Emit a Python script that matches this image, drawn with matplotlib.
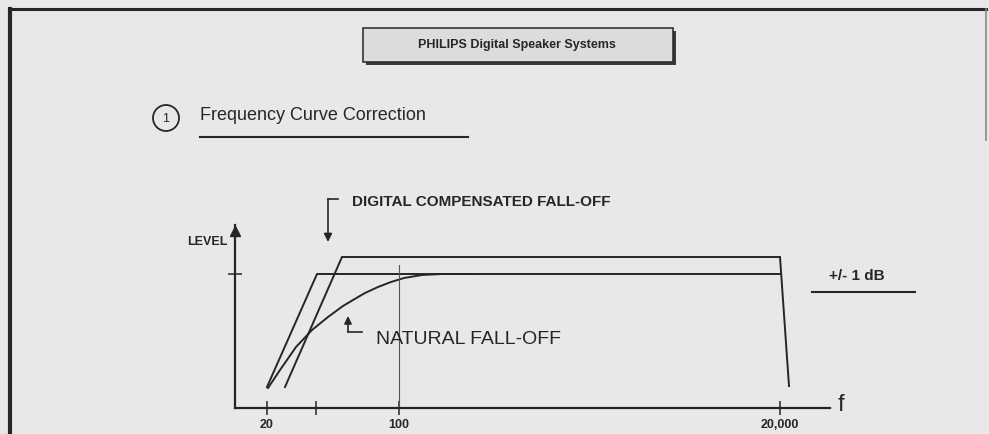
import matplotlib

matplotlib.use("Agg")
import matplotlib.pyplot as plt
from matplotlib.patches import Circle, Rectangle

# schematic units: x = position along the frequency axis, y = level
tick_pos = [32, 81, 164, 545]
tick_labels = ["20", "", "100", "20,000"]
level_ticks = [134]

natural_x = [33, 45, 61, 77, 93, 108, 118, 130, 143, 156, 169, 187, 207, 240]
natural_y = [20, 38, 61, 78, 91, 102, 108, 115, 121, 126, 130, 133, 134, 134]
lower_x = [32, 82, 546]
lower_y = [21, 134, 134]
upper_x = [50, 107, 545, 554]
upper_y = [21, 151, 151, 22]
mark_100_x = [164, 164]
mark_100_y = [0, 143]

INK = "#262626"
PAPER = "#e8e8e8"
FONT = ["Liberation Sans", "DejaVu Sans"]

fig = plt.figure(figsize=(9.89, 4.34), dpi=100, facecolor=PAPER)

# page layer in pixel units for the scanned-sheet decorations
page = fig.add_axes([0, 0, 1, 1])
page.set_xlim(0, 989)
page.set_ylim(434, 0)
page.axis("off")

page.plot([9, 986], [9, 9], color=INK, lw=2.2)
page.plot([10, 10], [9, 434], color=INK, lw=3)
page.plot([986, 986], [9, 140], color="#8a8a8a", lw=1.2)

page.add_patch(Rectangle((366, 31), 310, 34, facecolor="#3a3a3a", edgecolor="none"))
page.add_patch(Rectangle((363, 28), 310, 34, facecolor="#dcdcdc", edgecolor=INK, lw=1.1))
page.text(517, 45, "PHILIPS Digital Speaker Systems", ha="center", va="center",
          fontsize=9, fontweight="bold", family=FONT, color=INK)

page.add_patch(Circle((166, 118), 13, facecolor="none", edgecolor=INK, lw=1.3))
page.text(166, 119, "1", ha="center", va="center", fontsize=9, family=FONT, color=INK)
page.text(200, 115, "Frequency Curve Correction", ha="left", va="center",
          fontsize=13, family=FONT, color=INK)
page.plot([200, 468], [137, 137], color=INK, lw=1.5)

page.text(857, 276, "+/- 1 dB", ha="center", va="center", fontsize=11,
          fontweight="bold", family=FONT, color=INK)
page.plot([812, 915], [292, 292], color=INK, lw=1.5)

# the response chart
ax = fig.add_axes([235 / 989, 26 / 434, 595 / 989, 183 / 434])
ax.patch.set_alpha(0)
ax.set_xlim(0, 595)
ax.set_ylim(0, 183)
for side in ["top", "right"]:
    ax.spines[side].set_visible(False)
for side in ["left", "bottom"]:
    ax.spines[side].set_linewidth(1.6)
    ax.spines[side].set_color(INK)

ax.plot(upper_x, upper_y, color=INK, lw=1.4, solid_joinstyle="miter")
ax.plot(lower_x, lower_y, color=INK, lw=1.4, solid_joinstyle="miter")
ax.plot(natural_x, natural_y, color=INK, lw=1.4)
ax.plot(mark_100_x, mark_100_y, color="#555555", lw=0.8)

ax.set_xticks(tick_pos, tick_labels)
ax.set_yticks(level_ticks, [""])
ax.tick_params(axis="both", direction="inout", length=10, width=1.1, color=INK)
ax.tick_params(axis="x", pad=3, labelsize=9, labelcolor=INK)
for lbl in ax.get_xticklabels():
    lbl.set_family(FONT)
    lbl.set_fontweight("bold")

# axis arrow and labels
ax.plot(0, 177, marker="^", markersize=7, color=INK, clip_on=False)
ax.text(-8, 166, "LEVEL", ha="right", va="center", fontsize=9, fontweight="bold",
        family=FONT, color=INK)
ax.text(603, 3, "f", ha="left", va="center", fontsize=17, family=FONT, color=INK)

# callouts
ax.plot([103, 93], [209, 209], color=INK, lw=1.2, clip_on=False)
ax.annotate("", xy=(93, 166), xytext=(93, 209), annotation_clip=False,
            arrowprops=dict(arrowstyle="-|>", color=INK, lw=1.2, mutation_scale=12,
                            shrinkA=0, shrinkB=0))
ax.text(117, 206, "DIGITAL COMPENSATED FALL-OFF", ha="left", va="center",
        fontsize=11, fontweight="bold", family=FONT, color=INK, clip_on=False)

ax.plot([127, 113], [76, 76], color=INK, lw=1.2)
ax.annotate("", xy=(113, 92), xytext=(113, 76),
            arrowprops=dict(arrowstyle="-|>", color=INK, lw=1.2, mutation_scale=11,
                            shrinkA=0, shrinkB=0))
ax.text(141, 69, "NATURAL FALL-OFF", ha="left", va="center", fontsize=14,
        family=FONT, color=INK)

fig.savefig("out.png", dpi=100, facecolor=PAPER)
plt.close(fig)
